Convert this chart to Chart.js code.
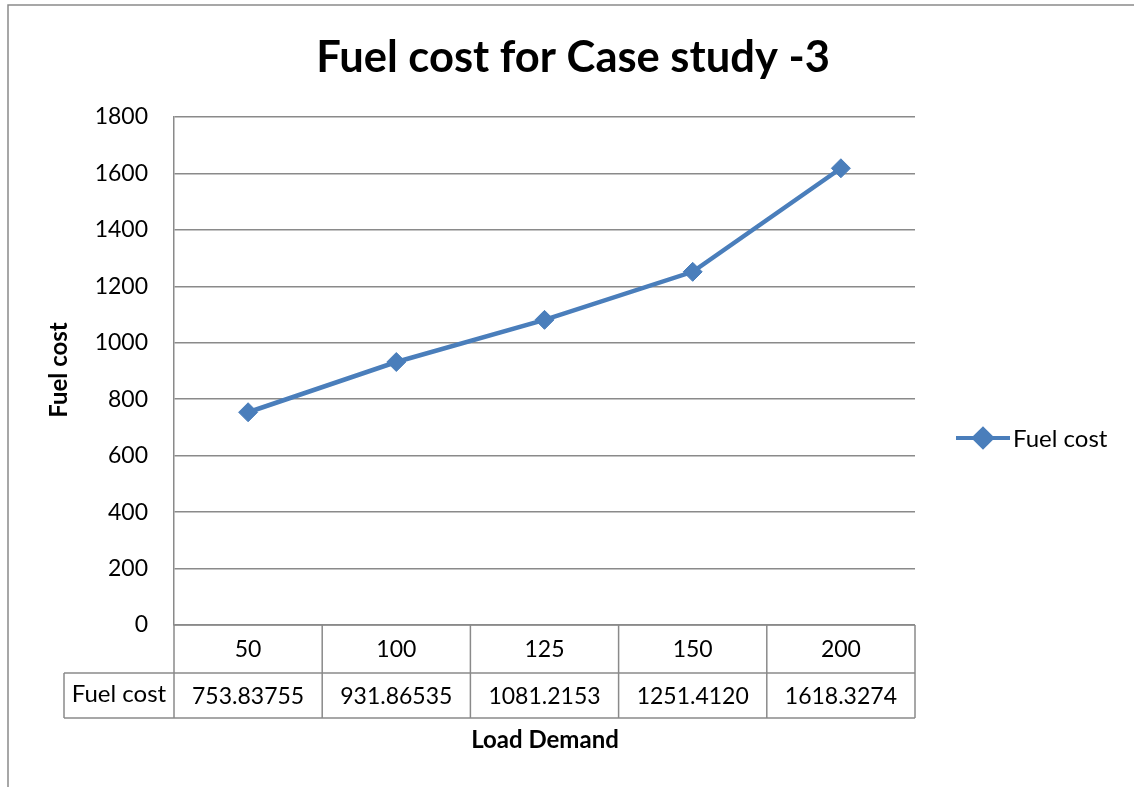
<!DOCTYPE html>
<html>
<head>
<meta charset="utf-8">
<script src="https://cdn.jsdelivr.net/npm/chart.js@4.4.1/dist/chart.umd.min.js"></script>
<style>
  html,body{margin:0;padding:0;background:#fff;}
  #wrap{width:1134px;height:787px;position:relative;}
</style>
</head>
<body>
<div id="wrap"><canvas id="c" width="1134" height="787"></canvas></div>
<script>
// data
const loadDemand = ['50', '100', '125', '150', '200'];
const fuelCost = [753.83755, 931.86535, 1081.2153, 1251.4120, 1618.3274];
const fuelCostText = ['753.83755', '931.86535', '1081.2153', '1251.4120', '1618.3274'];
const seriesName = 'Fuel cost';
const chartTitle = 'Fuel cost for Case study -3';
const xTitle = 'Load Demand';
const yTitle = 'Fuel cost';

const FONT = "Lato, 'Open Sans', sans-serif";
const GRID = '#8a8a8a';
const BLUE = '#4a7ebb';

Chart.defaults.font.family = FONT;
Chart.defaults.color = '#000';

// frame, title, axis titles, legend and the data table under the plot
const decor = {
  id: 'decor',
  afterDraw(chart) {
    const { ctx, chartArea: a, scales: { x } } = chart;
    ctx.save();
    // outer frame (left and top edges visible)
    ctx.strokeStyle = GRID; ctx.lineWidth = 1.5;
    ctx.beginPath(); ctx.moveTo(8, 787); ctx.lineTo(8, 5); ctx.lineTo(1134, 5); ctx.stroke();

    // title
    ctx.fillStyle = '#000';
    ctx.textAlign = 'center'; ctx.textBaseline = 'alphabetic';
    ctx.font = `bold 43.5px ${FONT}`;
    ctx.fillText(chartTitle, 573, 72);

    // axis titles
    ctx.font = `bold 24px ${FONT}`;
    ctx.textBaseline = 'middle';
    ctx.fillText(xTitle, 545, 740);
    ctx.save(); ctx.translate(59, 370); ctx.rotate(-Math.PI / 2);
    ctx.fillText(yTitle, 0, 0); ctx.restore();

    // legend
    ctx.strokeStyle = BLUE; ctx.lineWidth = 4;
    ctx.beginPath(); ctx.moveTo(956, 438); ctx.lineTo(1010, 438); ctx.stroke();
    Chart.helpers.drawPoint(ctx, { pointStyle: 'rectRot', radius: 9, borderWidth: 1 }, 983, 438);
    ctx.fillStyle = BLUE; ctx.fill();
    ctx.fillStyle = '#000'; ctx.textAlign = 'left';
    ctx.font = `24px ${FONT}`;
    ctx.fillText(seriesName, 1013, 439);

    // data table
    const n = loadDemand.length;
    const w = (a.right - a.left) / n;
    const r1 = a.bottom, r2 = a.bottom + 48, r3 = a.bottom + 93, leftCol = 64;
    ctx.strokeStyle = GRID; ctx.lineWidth = 1.5;
    ctx.beginPath();
    ctx.moveTo(a.left, r1); ctx.lineTo(a.right, r1);
    ctx.moveTo(leftCol, r2); ctx.lineTo(a.right, r2);
    ctx.moveTo(leftCol, r3); ctx.lineTo(a.right, r3);
    ctx.moveTo(leftCol, r2); ctx.lineTo(leftCol, r3);
    for (let i = 0; i <= n; i++) {
      const px = a.left + i * w;
      ctx.moveTo(px, r1); ctx.lineTo(px, r3);
    }
    ctx.stroke();
    ctx.fillStyle = '#000'; ctx.textAlign = 'center'; ctx.textBaseline = 'middle';
    ctx.font = `23px ${FONT}`;
    loadDemand.forEach((lab, i) => {
      const cx = x.getPixelForValue(i);
      ctx.fillText(lab, cx, (r1 + r2) / 2 + 1);
      ctx.fillText(fuelCostText[i], cx, (r2 + r3) / 2 + 1);
    });
    ctx.font = `24px ${FONT}`;
    ctx.fillText(seriesName, (leftCol + a.left) / 2, (r2 + r3) / 2 - 1);
    ctx.restore();
  }
};

new Chart(document.getElementById('c'), {
  type: 'line',
  data: {
    labels: loadDemand,
    datasets: [{
      label: seriesName,
      data: fuelCost,
      borderColor: BLUE, backgroundColor: BLUE,
      borderWidth: 4.5, tension: 0,
      pointStyle: 'rectRot', pointRadius: 9.5, pointBorderWidth: 1,
      pointBackgroundColor: BLUE, pointBorderColor: BLUE
    }]
  },
  options: {
    responsive: false, animation: false, events: [],
    layout: { padding: { left: 0, top: 117, right: 219, bottom: 162 } },
    plugins: { legend: { display: false }, title: { display: false }, tooltip: { enabled: false } },
    scales: {
      x: {
        offset: true,
        ticks: { display: false },
        grid: { display: false, drawTicks: false },
        border: { display: false },
        afterFit(s) { s.height = 0; }
      },
      y: {
        min: 0, max: 1800,
        ticks: { stepSize: 200, padding: 26, font: { size: 23 }, color: '#000', callback: v => String(v) },
        grid: { color: GRID, lineWidth: 1.5, drawTicks: false },
        border: { display: true, color: GRID, width: 1.5 },
        afterFit(s) { s.width = 174; }
      }
    }
  },
  plugins: [decor]
});
</script>
</body>
</html>
